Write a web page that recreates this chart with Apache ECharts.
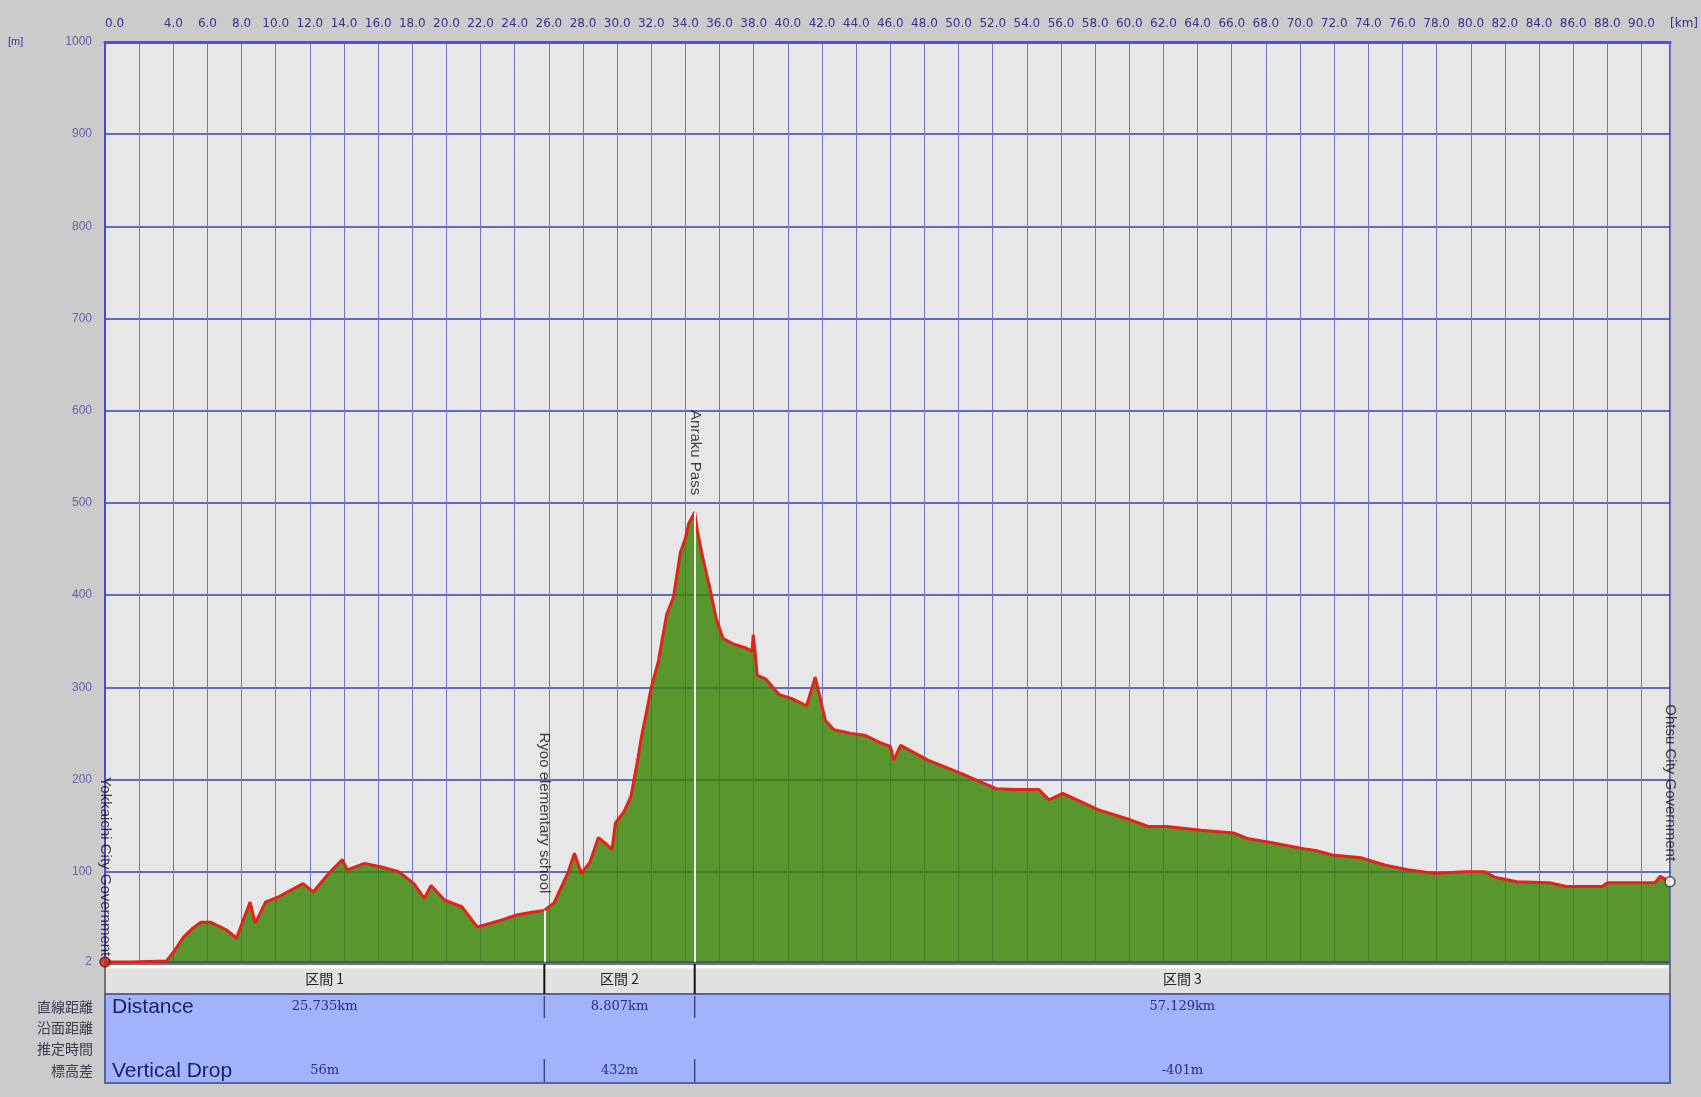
<!DOCTYPE html>
<html><head><meta charset="utf-8">
<script src="https://cdn.jsdelivr.net/npm/echarts@6/dist/echarts.min.js"></script>
<style>html,body{margin:0;padding:0;background:#cbcbcb;}#c{width:1701px;height:1097px;}</style>
</head><body><div id="c"></div>
<script>
// ---- data ----
const distanceKm = [0,1.5,3.6,4.1,4.6,5.1,5.6,6.2,7.1,7.7,8.5,8.8,9.4,10.2,11.6,12.2,13.1,13.9,14.2,15.2,16.2,17.2,18.1,18.7,19.1,19.9,20.9,21.8,22.6,23.3,24.1,25.0,25.735,
 26.3,27.1,27.5,27.9,28.4,28.9,29.3,29.7,29.9,30.4,30.8,31.0,31.2,31.4,31.75,32.0,32.4,32.9,33.3,33.7,34.0,34.2,34.542,
 34.7,35.0,35.4,35.8,36.2,36.8,37.5,37.9,37.97,38.1,38.2,38.7,39.5,40.2,41.1,41.6,42.2,42.7,43.7,44.5,45.4,46.0,46.2,46.6,48.2,50.1,52.2,53.4,54.7,55.3,56.1,58.2,60.1,61.1,62.2,64.2,66.1,66.9,68.2,70.2,70.9,71.9,73.6,75.0,76.3,77.9,79.6,80.8,81.4,82.7,84.6,85.6,87.7,88.0,90.8,91.1,91.671];
const elevationM = [2,2,3,15,29,38,45,45,37,28,67,44,67,73,87,78,98,113,102,109,105,100,87,71,85,69,62,40,44,48,53,56,58,
 66,98,120,98,110,137,131,124,153,165,181,201,221,244,276,300,327,379,398,446,462,478,490,
 470,442,410,375,353,347,343,339,357,335,313,309,292,288,280,311,264,254,250,248,240,236,221,237,221,207,190,189,189,178,185,167,156,149,149,145,142,136,132,125,123,118,115,107,102,98,100,100,94,89,88,84,84,88,88,95,89];
const yTickValues = [2,100,200,300,400,500,600,700,800,900,1000];
const xMaxKm = 91.671;
const markerNames = ['Yokkaichi City Government','Ryoo elementary school','Anraku Pass','Ohtsu City Government'];
const markerKm = [0,25.735,34.542,91.671];
const markerElev = [2,58,490,89];
const sectionNames = ['区間 1','区間 2','区間 3'];
const sectionBoundsKm = [0,25.735,34.542,91.671];
const sectionDistance = ['25.735km','8.807km','57.129km'];
const sectionDrop = ['56m','432m','-401m'];
const rowLabels = ['直線距離','沿面距離','推定時間','標高差'];
const rowTitles = ['Distance','Vertical Drop'];

// ---- styles (kept separate from data) ----
const markerLabelGap = [0,17,17,15];
const markerSymbolSize = [10,0,0,10];
const markerFill = ['#d8261a','#fff','#fff','#ffffff'];
const markerStroke = ['#5a1a10','#fff','#fff','#333333'];

const chart = echarts.init(document.getElementById('c'));
const profile = distanceKm.map((d,i)=>[d, elevationM[i]]);
const markers = markerKm.map((k,i)=>({
  value:[k, markerElev[i]], name: markerNames[i],
  symbolSize: markerSymbolSize[i],
  itemStyle:{color:markerFill[i], borderColor:markerStroke[i], borderWidth:1.5},
  label:{distance: markerLabelGap[i]}
}));
const innerLines = markerKm.slice(1,3).map((k,i)=>[{coord:[k,2]},{coord:[k,markerElev[i+1]]}]);

chart.setOption({
  animation:false,
  backgroundColor:'#cbcbcb',
  grid:{left:105,right:13,top:42,bottom:135,show:true,backgroundColor:'#e7e7e7',borderColor:'#5a5ad2',borderWidth:2},
  xAxis:{type:'value',position:'top',min:0,max:xMaxKm,interval:2,
    axisLine:{show:true,lineStyle:{color:'#5050e0',width:3}},
    axisTick:{show:false},
    axisLabel:{color:'#34348c',fontSize:12,fontFamily:'DejaVu Sans',margin:12,alignMinLabel:'left',alignMaxLabel:'left',
      formatter:v=> (Math.abs(v-xMaxKm)<1e-6 ? '[km]' : (v===2 ? '' : v.toFixed(1)))},
    splitLine:{show:true,lineStyle:{color:'#7474c4',width:1}}},
  yAxis:{type:'value',min:2,max:1000,
    axisLine:{show:true,lineStyle:{color:'#4848d8',width:2}},
    axisTick:{show:false,customValues:yTickValues},
    axisLabel:{customValues:yTickValues,color:'#6262aa',fontSize:12,fontFamily:'Liberation Sans',margin:13,formatter:v=>String(v)},
    splitLine:{show:true,lineStyle:{color:'#3440b0',width:1.5}}},
  series:[
    {type:'line',data:profile,symbol:'none',z:2,
      lineStyle:{color:'#e3231b',width:3},
      areaStyle:{color:'#378200',opacity:0.8}},
    {type:'scatter',data:markers,z:4,
      label:{show:true,formatter:p=>p.name,position:'top',rotate:-90,align:'right',verticalAlign:'middle',
        color:'#111',fontSize:15,fontFamily:'Liberation Sans'},
      markLine:{silent:true,symbol:'none',label:{show:false},lineStyle:{color:'#eeeeee',width:2,type:'solid'},data:innerLines}}
  ]
});

// ---- section table below the plot ----
const X = km => chart.convertToPixel({xAxisIndex:0}, km);
const yBase = chart.convertToPixel({yAxisIndex:0}, 2);
const x0 = X(sectionBoundsKm[0]), x1 = X(sectionBoundsKm[sectionBoundsKm.length-1]);
const hTop = yBase+2, hBot = yBase+32, bBot = yBase+121;
const rowY = [yBase+45, yBase+66, yBase+87, yBase+109];
const g = [];
g.push({type:'rect',shape:{x:x0,y:hTop,width:x1-x0,height:hBot-hTop},style:{fill:'#e2e2e2',stroke:'#555',lineWidth:1.5}});
g.push({type:'line',shape:{x1:x0+1,y1:hTop+3,x2:x1-1,y2:hTop+3},style:{stroke:'#fbfbfb',lineWidth:3}});
g.push({type:'rect',shape:{x:x0,y:hBot,width:x1-x0,height:bBot-hBot},style:{fill:'#a2b3fb',stroke:'#55649a',lineWidth:2}});
g.push({type:'line',shape:{x1:x0,y1:yBase,x2:x1,y2:yBase},style:{stroke:'#44507a',lineWidth:2}});
for(let i=1;i<sectionBoundsKm.length-1;i++){
  const x = X(sectionBoundsKm[i]);
  g.push({type:'line',shape:{x1:x,y1:hTop,x2:x,y2:hBot},style:{stroke:'#111',lineWidth:2}});
  g.push({type:'line',shape:{x1:x,y1:hBot+2,x2:x,y2:hBot+24},style:{stroke:'#3c4a80',lineWidth:1.5}});
  g.push({type:'line',shape:{x1:x,y1:bBot-24,x2:x,y2:bBot-1},style:{stroke:'#3c4a80',lineWidth:1.5}});
}
for(let i=0;i<sectionNames.length;i++){
  const cx = (X(sectionBoundsKm[i])+X(sectionBoundsKm[i+1]))/2;
  g.push({type:'text',x:cx,y:(hTop+hBot)/2,style:{text:sectionNames[i],font:'14px "Noto Sans CJK JP"',fill:'#222',align:'center',verticalAlign:'middle'}});
  g.push({type:'text',x:cx,y:rowY[0],style:{text:sectionDistance[i],font:'13px "DejaVu Serif"',fill:'#2a2a80',align:'center',verticalAlign:'middle'}});
  g.push({type:'text',x:cx,y:rowY[3],style:{text:sectionDrop[i],font:'13px "DejaVu Serif"',fill:'#2a2a80',align:'center',verticalAlign:'middle'}});
}
g.push({type:'text',x:x0+7,y:rowY[0],style:{text:rowTitles[0],font:'21px "Liberation Sans"',fill:'#18205e',align:'left',verticalAlign:'middle'}});
g.push({type:'text',x:x0+7,y:rowY[3],style:{text:rowTitles[1],font:'21px "Liberation Sans"',fill:'#18205e',align:'left',verticalAlign:'middle'}});
rowLabels.forEach((t,i)=>g.push({type:'text',x:x0-12,y:rowY[i],style:{text:t,font:'14px "Noto Sans CJK JP"',fill:'#3a3a50',align:'right',verticalAlign:'middle'}}));
g.push({type:'text',x:8,y:36,style:{text:'[m]',fill:'#3a3a90',font:'11px "Liberation Sans"'}});
chart.setOption({graphic:g});
</script></body></html>
